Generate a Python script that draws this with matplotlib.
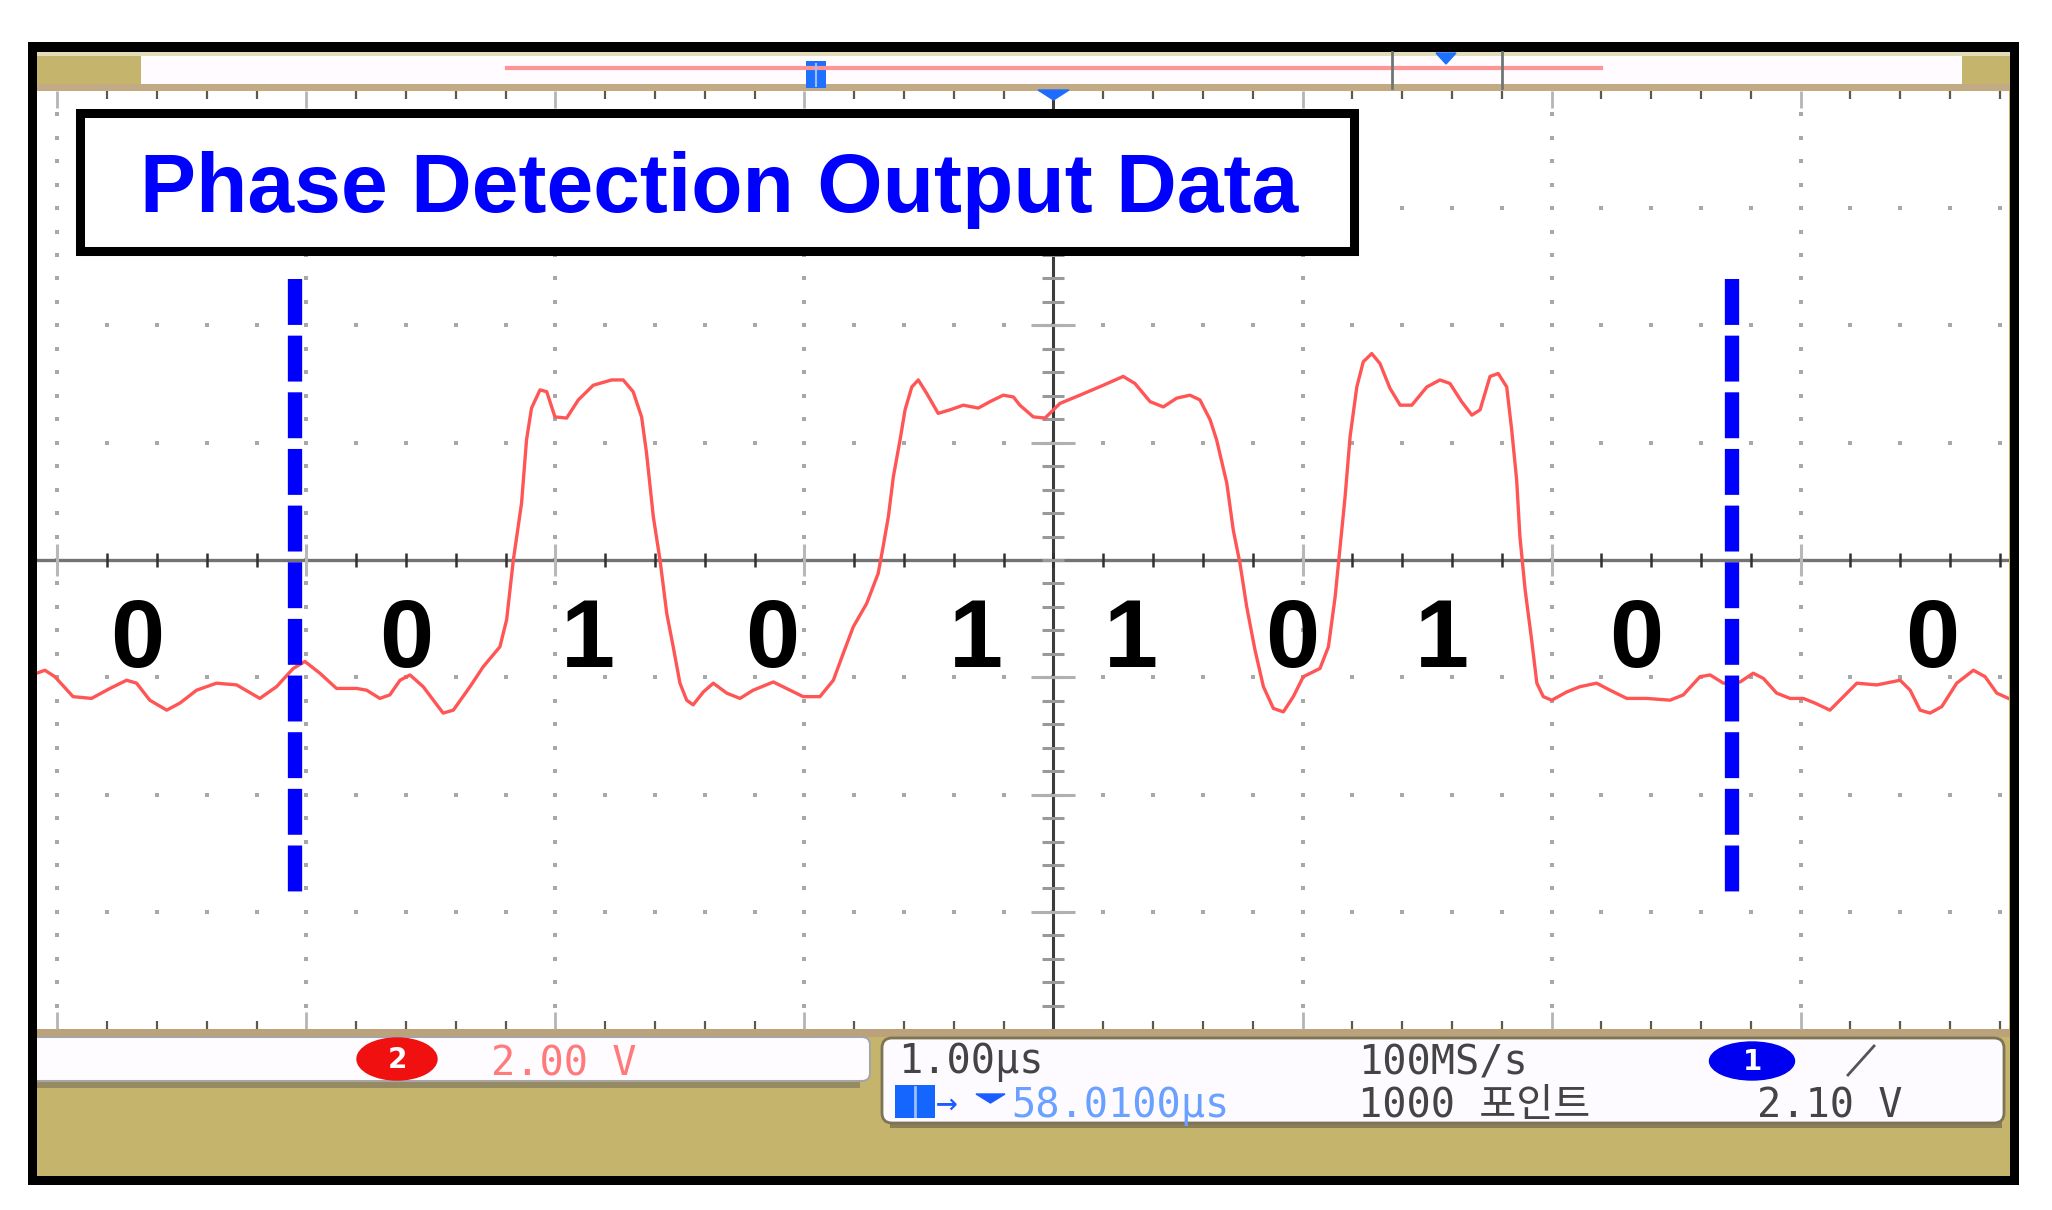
import numpy as np
import matplotlib.pyplot as plt
from matplotlib.patches import Rectangle, Ellipse, Polygon, FancyBboxPatch
from matplotlib.ticker import MultipleLocator

# Channel 2 trace: time in us from screen centre, voltage in V (2.00 V/div)
t_us = [-4.083, -4.050, -4.010, -3.937, -3.863, -3.789, -3.722, -3.682, -3.629, -3.561,
        -3.508, -3.441, -3.361, -3.280, -3.187, -3.120, -3.053, -3.006, -2.946, -2.879,
        -2.798, -2.758, -2.705, -2.665, -2.624, -2.584, -2.531, -2.451, -2.410, -2.343,
        -2.290, -2.223, -2.196, -2.169, -2.136, -2.116, -2.096, -2.062, -2.035, -2.002,
        -1.955, -1.908, -1.848, -1.774, -1.728, -1.688, -1.654, -1.634, -1.607, -1.580,
        -1.553, -1.527, -1.500, -1.473, -1.447, -1.406, -1.366, -1.312, -1.259, -1.206,
        -1.125, -1.058, -1.005, -0.938, -0.884, -0.844, -0.804, -0.750, -0.704, -0.684,
        -0.663, -0.643, -0.616, -0.596, -0.569, -0.543, -0.509, -0.463, -0.416, -0.362,
        -0.302, -0.255, -0.202, -0.161, -0.135, -0.081, -0.034, 0.026, 0.106, 0.200,
        0.280, 0.327, 0.388, 0.441, 0.495, 0.548, 0.588, 0.629, 0.655, 0.696,
        0.722, 0.749, 0.776, 0.809, 0.843, 0.883, 0.923, 0.963, 1.003, 1.070,
        1.104, 1.131, 1.151, 1.171, 1.191, 1.218, 1.244, 1.278, 1.311, 1.351,
        1.392, 1.439, 1.499, 1.552, 1.592, 1.639, 1.680, 1.713, 1.753, 1.786,
        1.820, 1.840, 1.860, 1.873, 1.894, 1.920, 1.941, 1.967, 2.001, 2.061,
        2.114, 2.181, 2.235, 2.302, 2.382, 2.476, 2.529, 2.596, 2.637, 2.690,
        2.757, 2.810, 2.851, 2.904, 2.958, 3.011, 3.058, 3.118, 3.172, 3.226,
        3.306, 3.400, 3.440, 3.480, 3.520, 3.567, 3.627, 3.694, 3.741, 3.788, 3.835]
v_volt = [-1.93, -1.88, -1.99, -2.33, -2.36, -2.19, -2.05, -2.10, -2.39, -2.56,
          -2.44, -2.22, -2.10, -2.13, -2.36, -2.16, -1.85, -1.73, -1.93, -2.19,
          -2.19, -2.22, -2.36, -2.30, -2.05, -1.96, -2.16, -2.61, -2.56, -2.16,
          -1.82, -1.48, -1.02, 0.00, 0.97, 2.05, 2.59, 2.90, 2.87, 2.44,
          2.42, 2.73, 2.98, 3.07, 3.07, 2.87, 2.44, 1.82, 0.74, 0.00,
          -0.91, -1.48, -2.10, -2.39, -2.47, -2.25, -2.10, -2.27, -2.36, -2.22,
          -2.08, -2.22, -2.33, -2.33, -2.05, -1.59, -1.14, -0.74, -0.23, 0.23,
          0.74, 1.42, 2.05, 2.56, 2.95, 3.07, 2.84, 2.50, 2.56, 2.64,
          2.59, 2.70, 2.81, 2.78, 2.64, 2.44, 2.42, 2.67, 2.81, 2.98,
          3.13, 3.01, 2.70, 2.61, 2.76, 2.81, 2.73, 2.39, 2.05, 1.31,
          0.51, -0.06, -0.80, -1.53, -2.16, -2.53, -2.59, -2.33, -1.99, -1.85,
          -1.48, -0.63, 0.23, 1.08, 2.10, 2.95, 3.38, 3.52, 3.35, 2.93,
          2.64, 2.64, 2.95, 3.07, 3.01, 2.70, 2.47, 2.56, 3.13, 3.18,
          2.95, 2.22, 1.36, 0.40, -0.51, -1.36, -2.10, -2.33, -2.39, -2.25,
          -2.16, -2.10, -2.22, -2.36, -2.36, -2.39, -2.30, -1.99, -1.96, -2.10,
          -2.08, -1.93, -2.02, -2.27, -2.36, -2.36, -2.44, -2.56, -2.33, -2.10,
          -2.13, -2.05, -2.22, -2.56, -2.61, -2.50, -2.10, -1.88, -1.99, -2.27, -2.36]

# decoded bits written under the trace
bit_labels = ["0", "0", "1", "0", "1", "1", "0", "1", "0", "0"]
bit_t_us = [-3.68, -2.60, -1.87, -1.13, -0.31, 0.31, 0.96, 1.56, 2.34, 3.53]
bit_v = -1.82

# blue dashed frame markers
marker_t_us = [-3.044, 2.725]
marker_v = [4.79, -5.66]

title = "Phase Detection Output Data"
ch2_scale = "2.00 V"
time_scale = "1.00\u00b5s"
trig_pos = "58.0100\u00b5s"
sample_rate = "100MS/s"
record_len = "1000 \ud3ec\uc778\ud2b8"
trig_level = "2.10 V"

t_min, t_max = -4.083, 3.837
v_min, v_max = -8, 8

W, H = 2052, 1210
fig = plt.figure(figsize=(W / 100, H / 100), dpi=100)

# ---- background (scope chrome), pixel layout coords ----
bg = fig.add_axes([0, 0, 1, 1], zorder=0)
bg.set_xlim(0, W)
bg.set_ylim(H, 0)
bg.axis("off")

def box(a, x0, y0, x1, y1, color, **kw):
    a.add_patch(Rectangle((x0, y0), x1 - x0, y1 - y0, facecolor=color, edgecolor="none", **kw))

tan = "#c5b56c"
box(bg, 28, 42, 2019, 1185, "black")
box(bg, 37, 52, 2010, 1176, tan)
box(bg, 37, 52, 2010, 56, "#e3dcb8")
box(bg, 141, 56, 1962, 85, "#fffbff")
box(bg, 37, 84, 2010, 92, "#c2ab84")
box(bg, 37, 1027, 2010, 1037, "#bba27a")
bg.plot([507, 1601], [68, 68], color="#ff9494", lw=3)
box(bg, 806, 61, 826, 88, "#1e70ff")
bg.plot([816, 816], [64, 86], color="#9cc0ff", lw=1.5)
for xb in (1392, 1502):
    bg.plot([xb, xb], [52, 88], color="#6c7774", lw=2)
bg.add_patch(Polygon([(1436, 53), (1456, 53), (1446, 64)], color="#1e70ff"))

# status panels
box(bg, 37, 1080, 860, 1088, "#958a62")
bg.add_patch(FancyBboxPatch((29, 1037), 841, 44, boxstyle="round,pad=0,rounding_size=8",
                            facecolor="#fefcff", edgecolor="#a5a5a5", lw=1.5))
box(bg, 28, 1020, 37, 1185, "black")
box(bg, 890, 1122, 2002, 1128, "#8b7d55")
bg.add_patch(FancyBboxPatch((882, 1038), 1122, 85, boxstyle="round,pad=0,rounding_size=10",
                            facecolor="#fdfbff", edgecolor="#7d7455", lw=2))

mono = dict(family="DejaVu Sans Mono", fontsize=29, va="baseline")
bg.add_patch(Ellipse((397, 1059), 80, 42, color="#f01010"))
bg.text(397, 1060, "2", color="white", fontsize=20, fontweight="bold",
        ha="center", va="center", family="DejaVu Sans")
bg.text(491, 1075, ch2_scale, color="#ff7b7b", **mono)
bg.text(898, 1073, time_scale, color="#444444", **mono)
box(bg, 895, 1085, 935, 1118, "#1565ff")
bg.plot([915, 915], [1087, 1116], color="#9cc0ff", lw=2)
bg.text(936, 1114, "\u2192", color="#1a5cff", family="DejaVu Sans Mono", fontsize=26, va="baseline")
bg.add_patch(Polygon([(976, 1094), (1005, 1094), (990.5, 1103)], color="#1a5cff"))
bg.text(1011, 1117, trig_pos, color="#6aa0ff", **mono)
bg.text(1358, 1075, sample_rate, color="#444444", **mono)
bg.text(1358, 1117, record_len, color="#444444", family=["DejaVu Sans Mono", "Noto Sans CJK KR"],
        fontsize=29, va="baseline")
bg.add_patch(Ellipse((1752, 1061), 85, 38, color="#0000f0"))
bg.text(1752, 1062, "1", color="white", fontsize=20, fontweight="bold",
        ha="center", va="center", family="DejaVu Sans")
bg.plot([1848, 1874], [1075, 1046], color="#555555", lw=2)
bg.text(1757, 1117, trig_level, color="#444444", **mono)

# ---- graticule / waveform axes ----
x0, y0, x1, y1 = 36.7, 90.8, 2009, 1029.2
ax = fig.add_axes([x0 / W, 1 - y1 / H, (x1 - x0) / W, (y1 - y0) / H], zorder=1)
ax.set_facecolor("white")
ax.set_xlim(t_min, t_max)
ax.set_ylim(v_min, v_max)
for s in ax.spines.values():
    s.set_visible(False)
ax.xaxis.set_major_locator(MultipleLocator(1))
ax.xaxis.set_minor_locator(MultipleLocator(0.2))
ax.set_yticks([])
ax.tick_params(axis="x", which="major", direction="in", top=True, bottom=True,
               length=12, width=2, color="#b5b5b5", labelbottom=False)
ax.tick_params(axis="x", which="minor", direction="in", top=True, bottom=True,
               length=6, width=1.6, color="#5f5a48")

# dotted grid
dot_v = np.arange(-7.6, 7.7, 0.4)
for tc in [-4, -3, -2, -1, 1, 2, 3]:
    ax.plot([tc] * len(dot_v), dot_v, ls="none", marker="s", ms=2.4, color="#a8a8a8", mew=0)
dot_t = np.arange(-4.0, 3.85, 0.2)
for vr in [-6, -4, -2, 2, 4, 6]:
    ax.plot(dot_t, [vr] * len(dot_t), ls="none", marker="s", ms=2.4, color="#a8a8a8", mew=0)

# centre cross with ticks
ax.axhline(0, color="#737373", lw=2.4, zorder=2)
ax.axvline(0, color="#3c3c3c", lw=2.2, zorder=2)
ax.plot(dot_t, np.zeros_like(dot_t), ls="none", marker="|", ms=10, mew=1.8, color="#303030", zorder=2)
maj_t = [-4, -3, -2, -1, 1, 2, 3]
ax.plot(maj_t, [0] * len(maj_t), ls="none", marker="|", ms=23, mew=2.2, color="#b8b8b8", zorder=2)
ax.plot(np.zeros_like(dot_v), dot_v, ls="none", marker="_", ms=16, mew=2.2, color="#9a9a9a", zorder=2)
maj_v = [-6, -4, -2, 2, 4, 6]
ax.plot([0] * len(maj_v), maj_v, ls="none", marker="_", ms=32, mew=2.2, color="#b0b0b0", zorder=2)

ax.plot(t_us, v_volt, color="#ff5555", lw=2.4, zorder=3)

for tm in marker_t_us:
    ax.plot([tm, tm], marker_v, color="#0000ff", lw=10.3, ls=(0, (3.21, 0.75)), zorder=4)

for lab, tb in zip(bit_labels, bit_t_us):
    ax.text(tb, bit_v, lab, family="Liberation Sans", fontweight="bold", fontsize=70,
            ha="center", va="baseline", color="black", zorder=5)

# ---- overlay: title box, trigger marker ----
ov = fig.add_axes([0, 0, 1, 1], zorder=2)
ov.set_xlim(0, W)
ov.set_ylim(H, 0)
ov.axis("off")
ov.add_patch(Polygon([(1038, 90), (1069, 90), (1053.5, 100)], color="#1e6cff"))
ov.add_patch(Rectangle((79.5, 112.5), 1274, 138, facecolor="white", edgecolor="black", lw=6.5))
ov.text(719.5, 212, title, family="Liberation Sans", fontweight="bold", fontsize=60.5,
        color="#0000ff", ha="center", va="baseline")

fig.savefig("out.png", dpi=100, facecolor="white")
